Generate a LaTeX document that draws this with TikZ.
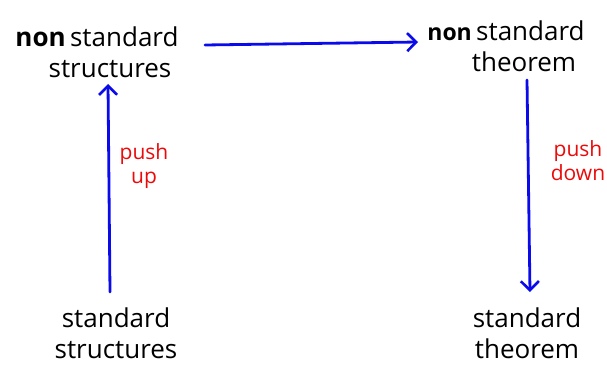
\documentclass[tikz,border=0pt]{standalone}
\usepackage{fontspec}
\setmainfont{Open Sans}
\usetikzlibrary{arrows.meta}
\definecolor{penblue}{RGB}{10,10,235}
\definecolor{penred}{RGB}{235,10,10}
\tikzset{
  term/.style={font=\fontsize{26}{31}\selectfont, align=center, inner sep=0pt, text=black},
  leg/.style={draw=penblue, line width=2.8pt, line cap=round,
    -{Straight Barb[length=9pt, width=18pt, line width=2.6pt]}},
  tag/.style={font=\fontsize{21}{24}\selectfont, text=penred, align=center, inner sep=0pt},
}
\begin{document}
\begin{tikzpicture}[x=1pt, y=-1pt]
\useasboundingbox (0,0) rectangle (607,366);

% the four corners of the square
\node[term] (ns) at (97,52) {\textbf{non}\,standard\\ \hspace*{26pt}structures};
\node[term] (nt) at (506,46) {{\fontsize{23}{23}\selectfont\textbf{non}}\,standard\\ \hspace*{36pt}theorem};
\node[term] (ss) at (116,333) {standard\\ structures};
\node[term] (st) at (527,333) {standard\\ theorem};

% arrows between them
\coordinate (a1) at (205,45);
\coordinate (a2) at (418,42);
\draw[leg] (a1) -- (a2);
\coordinate (b1) at (110,292);
\coordinate (b2) at (108,84);
\draw[leg] (b1) -- (b2);
\coordinate (c1) at (527,80);
\coordinate (c2) at (530,292);
\draw[leg] (c1) -- (c2);

% labels on the vertical arrows
\node[tag] (pu) at (144,166) {push\\up};
\node[tag] (pd) at (578,161) {push\\down};
\end{tikzpicture}
\end{document}
